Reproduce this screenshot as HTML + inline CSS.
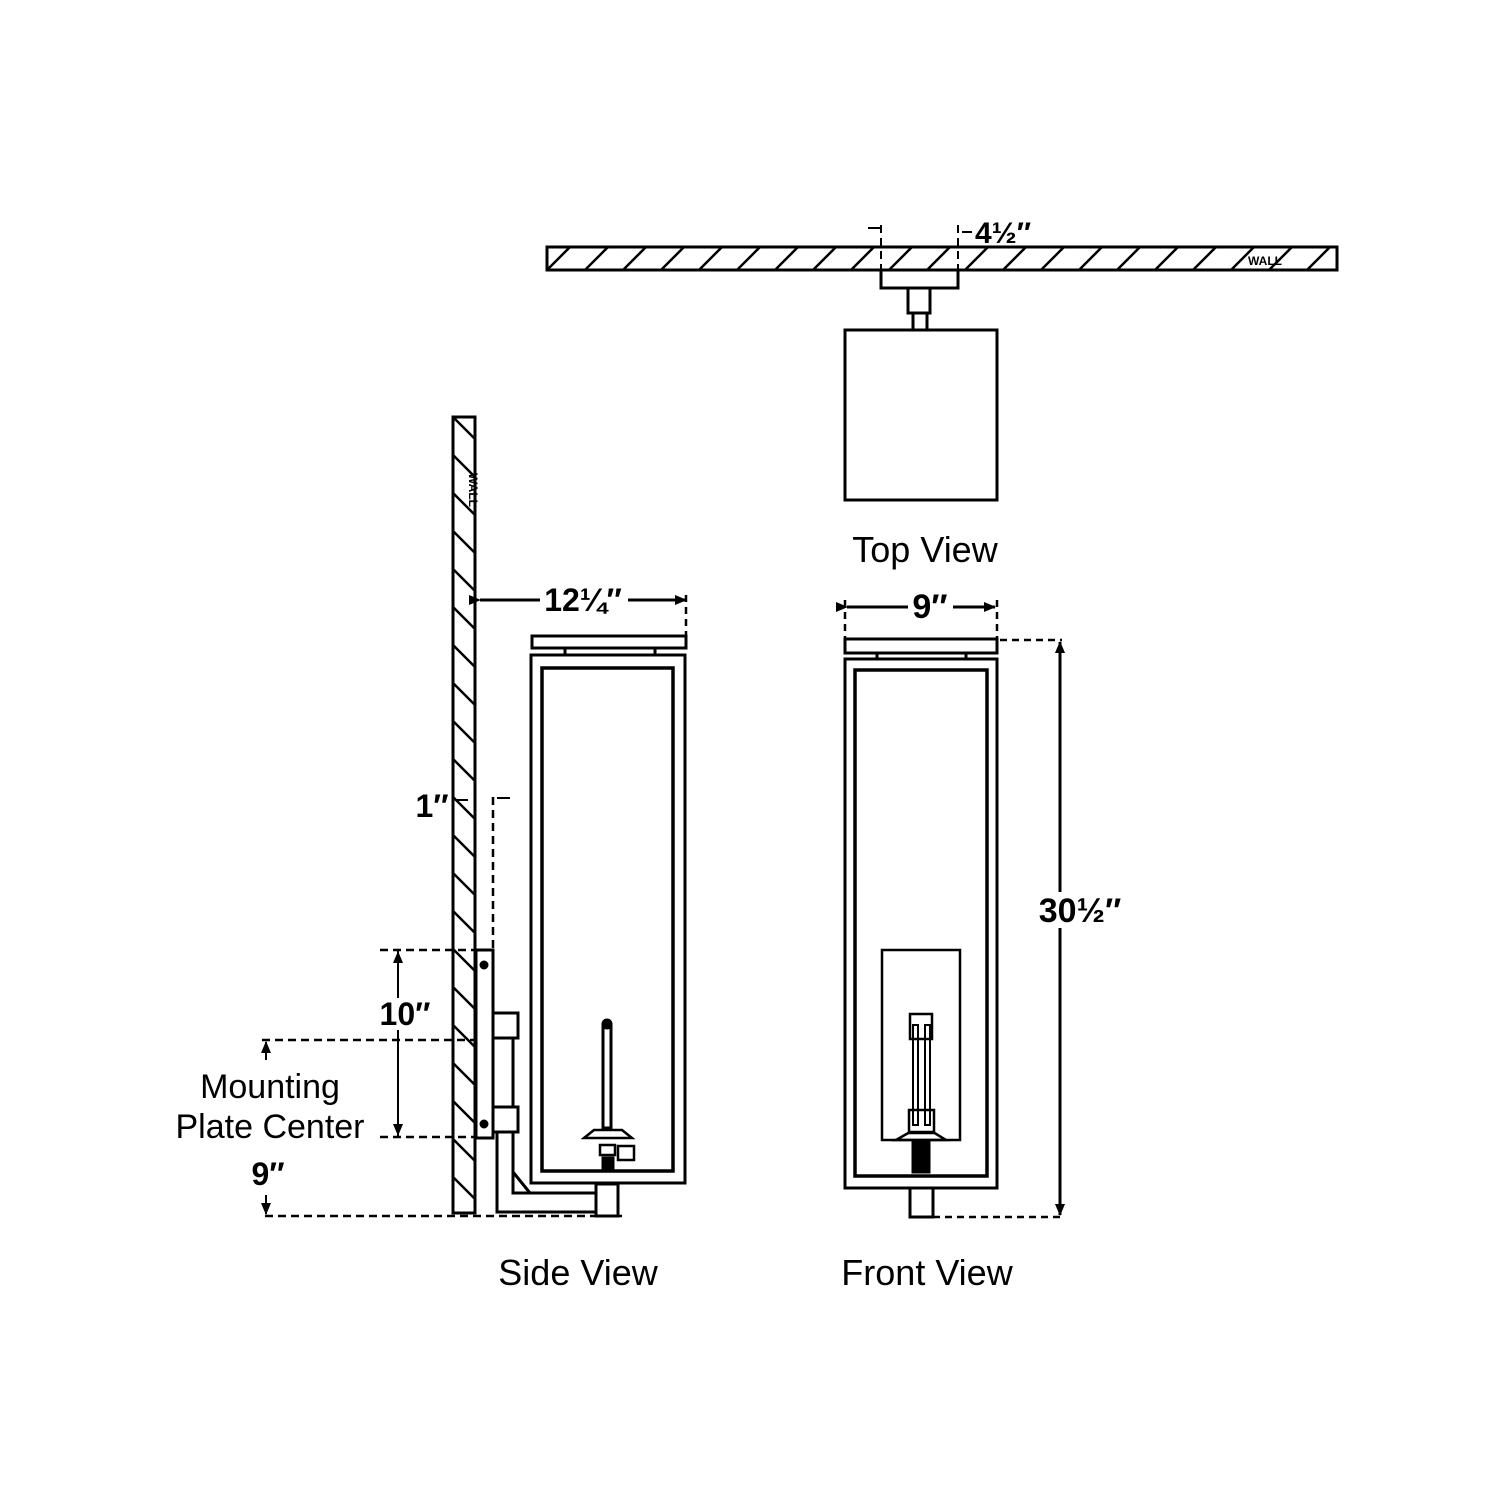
<!DOCTYPE html>
<html><head><meta charset="utf-8"><style>
html,body{margin:0;padding:0;background:#fff;width:1500px;height:1500px;overflow:hidden}
text{font-family:"Liberation Sans",sans-serif;fill:#000}
</style></head><body>
<svg width="1500" height="1500" viewBox="0 0 1500 1500" xmlns="http://www.w3.org/2000/svg">
<defs>
<pattern id="hTop" width="38" height="23" patternUnits="userSpaceOnUse" x="547" y="247">
<line x1="0" y1="23" x2="23" y2="0" stroke="#000" stroke-width="2.5"/>
<line x1="38" y1="23" x2="61" y2="0" stroke="#000" stroke-width="2.5"/>
</pattern>
<pattern id="hSide" width="22" height="38" patternUnits="userSpaceOnUse" x="453" y="417">
<line x1="0" y1="0" x2="22" y2="22" stroke="#000" stroke-width="2.5"/>
<line x1="0" y1="38" x2="22" y2="60" stroke="#000" stroke-width="2.5"/>
</pattern>
<marker id="ar" markerWidth="12" markerHeight="10" refX="11" refY="5" orient="auto" markerUnits="userSpaceOnUse"><path d="M0,0 L12,5 L0,10 Z" fill="#000"/></marker>
</defs>
<g fill="none" stroke="#000" stroke-width="3">
<rect x="547" y="247" width="790" height="23" fill="url(#hTop)"/>
<rect x="881" y="270" width="77" height="18"/>
<rect x="908" y="288" width="22" height="25"/>
<rect x="913" y="313" width="14" height="17"/>
<rect x="845" y="330" width="152" height="170"/>
<g stroke-dasharray="8,5" stroke-width="2"><line x1="881" y1="225" x2="881" y2="285"/><line x1="958" y1="225" x2="958" y2="285"/></g>
<path d="M868,228 L880,228 M962,232 L972,232" stroke-width="2"/>
<rect x="453" y="417" width="22" height="796" fill="url(#hSide)"/>
<line x1="480" y1="600" x2="686" y2="600" marker-start="url(#ar)" marker-end="url(#ar)" stroke-width="3"/>
<line x1="686" y1="595" x2="686" y2="636" stroke-dasharray="7,5" stroke-width="2.5"/>
<rect x="532" y="636" width="154" height="12"/>
<rect x="531" y="655" width="154" height="528"/>
<rect x="542" y="668" width="131" height="503" stroke-width="3.5"/>
<line x1="565" y1="648" x2="565" y2="655"/><line x1="655" y1="648" x2="655" y2="655"/>
<rect x="476" y="950" width="17" height="188"/>
<circle cx="484" cy="965" r="3" fill="#000"/><circle cx="484" cy="1124" r="3" fill="#000"/>
<rect x="493" y="1013" width="25" height="25"/>
<rect x="493" y="1107" width="25" height="25"/>
<line x1="513" y1="1038" x2="513" y2="1107"/>
<path d="M497,1132 L497,1212 L596,1212 M513,1132 L513,1193 L596,1193 M513,1172 L530,1193"/>
<rect x="596" y="1184" width="22" height="32"/>
<rect x="603" y="1025" width="8" height="103"/>
<circle cx="607" cy="1024" r="4" fill="#000"/>
<path d="M584,1138 L594,1130 L622,1130 L632,1138 Z" stroke-width="2.5"/>
<rect x="600" y="1145" width="15" height="10" stroke-width="2.5"/>
<rect x="618" y="1146" width="16" height="14" stroke-width="2.5"/>
<rect x="603" y="1158" width="10" height="12" fill="#000"/>
<g stroke-dasharray="8,5" stroke-width="2.5">
<line x1="265" y1="1216" x2="622" y2="1216"/>
<line x1="380" y1="950" x2="490" y2="950"/>
<line x1="262" y1="1040" x2="475" y2="1040"/>
<line x1="380" y1="1137" x2="475" y2="1137"/>
<line x1="493" y1="797" x2="493" y2="950"/>
</g>
<line x1="398" y1="1137" x2="398" y2="952" marker-end="url(#ar)" stroke-width="2"/>
<line x1="398" y1="950" x2="398" y2="1135" marker-end="url(#ar)" stroke-width="2"/>
<line x1="266" y1="1060" x2="266" y2="1042" marker-end="url(#ar)" stroke-width="2"/>
<line x1="266" y1="1195" x2="266" y2="1214" marker-end="url(#ar)" stroke-width="2"/>
<path d="M457,800 L468,800 M497,798 L510,798" stroke-width="2"/>
<line x1="847" y1="607" x2="995" y2="607" marker-start="url(#ar)" marker-end="url(#ar)" stroke-width="3"/>
<g stroke-dasharray="7,5" stroke-width="2.5"><line x1="845" y1="600" x2="845" y2="640"/><line x1="997" y1="600" x2="997" y2="640"/>
<line x1="1000" y1="640" x2="1062" y2="640"/><line x1="933" y1="1217" x2="1062" y2="1217"/></g>
<rect x="845" y="639" width="152" height="14"/>
<line x1="877" y1="653" x2="877" y2="659"/><line x1="966" y1="653" x2="966" y2="659"/>
<rect x="845" y="659" width="152" height="529"/>
<rect x="855" y="670" width="132" height="506" stroke-width="3.5"/>
<rect x="882" y="950" width="78" height="190" stroke-width="2.5"/>
<rect x="910" y="1188" width="23" height="29"/>
<line x1="1060" y1="1215" x2="1060" y2="642" marker-end="url(#ar)" stroke-width="3"/>
<line x1="1060" y1="642" x2="1060" y2="1215" marker-end="url(#ar)" stroke-width="3"/>
<rect x="910" y="1014" width="22" height="25" stroke-width="2.5"/>
<rect x="913" y="1025" width="5" height="100" stroke-width="2"/>
<rect x="925" y="1025" width="5" height="100" stroke-width="2"/>
<rect x="909" y="1110" width="25" height="23" stroke-width="2.5"/>
<path d="M896,1140 L910,1132 L933,1132 L946,1140 Z" stroke-width="2.5"/>
<rect x="913" y="1142" width="16" height="30" fill="#000"/>
</g>
<g fill="#fff">
<rect x="540" y="585" width="88" height="30"/>
<rect x="908" y="592" width="45" height="30"/>
<rect x="378" y="998" width="58" height="32"/>
<rect x="1025" y="892" width="110" height="36"/>
</g>
<g font-weight="bold">
<text x="975" y="243" font-size="30">4½″</text>
<text x="583" y="611" font-size="32" text-anchor="middle">12¼″</text>
<text x="930" y="618" font-size="34" text-anchor="middle">9″</text>
<text x="432" y="817" font-size="32" text-anchor="middle">1″</text>
<text x="405" y="1025" font-size="32" text-anchor="middle">10″</text>
<text x="268" y="1185" font-size="32" text-anchor="middle">9″</text>
<text x="1080" y="922" font-size="34" text-anchor="middle">30½″</text>
</g>
<text x="270" y="1098" font-size="34" text-anchor="middle">Mounting</text>
<text x="270" y="1138" font-size="34" text-anchor="middle">Plate Center</text>
<text x="925" y="562" font-size="36" text-anchor="middle">Top View</text>
<text x="578" y="1285" font-size="36" text-anchor="middle">Side View</text>
<text x="927" y="1285" font-size="36" text-anchor="middle">Front View</text>
<text x="1265" y="265" font-size="12" font-weight="bold" text-anchor="middle">WALL</text>
<text x="0" y="0" font-size="12" font-weight="bold" text-anchor="middle" transform="translate(469,490) rotate(90)">WALL</text>
</svg>
</body></html>
